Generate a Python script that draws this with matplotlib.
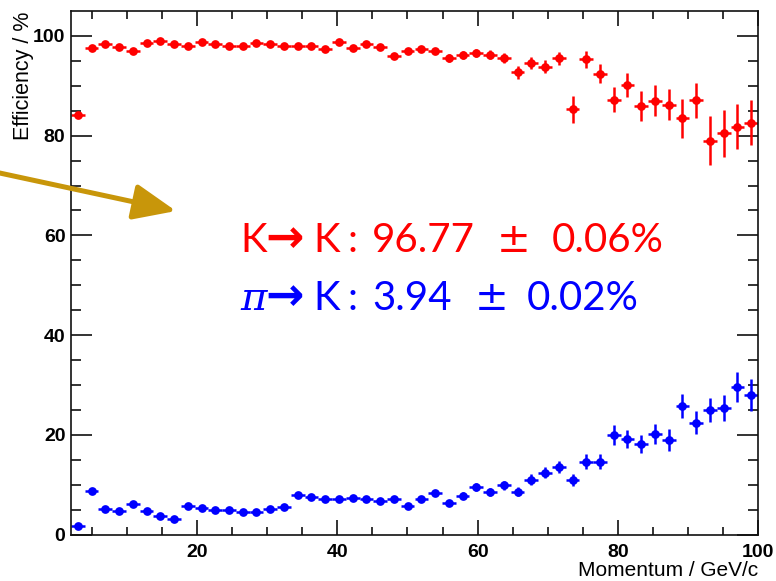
import numpy as np
import matplotlib
matplotlib.use("Agg")
import matplotlib.pyplot as plt
from matplotlib.font_manager import FontProperties

# ---------------- data ----------------
x_min, x_max, n_bins = 2.0, 100.0, 50
bin_w = (x_max - x_min) / n_bins
momentum = x_min + bin_w * (np.arange(n_bins) + 0.5)

kk_eff = [84.2, 97.5, 98.3, 97.7, 97.0, 98.5, 99.0, 98.4, 98.0, 98.7,
          98.3, 98.0, 98.0, 98.5, 98.4, 98.0, 98.0, 97.9, 97.3, 98.8,
          97.5, 98.4, 97.8, 95.9, 97.0, 97.4, 97.0, 95.5, 96.1, 96.6,
          96.2, 95.5, 92.7, 94.6, 93.8, 95.5, 85.3, 95.3, 92.4, 87.2,
          90.2, 86.0, 87.0, 86.2, 83.5, 87.1, 79.0, 80.5, 81.8, 82.6]
kk_err = [0.4, 0.3, 0.3, 0.3, 0.3, 0.3, 0.3, 0.3, 0.3, 0.3,
          0.3, 0.3, 0.3, 0.3, 0.3, 0.3, 0.3, 0.3, 0.4, 0.4,
          0.4, 0.4, 0.5, 0.5, 0.5, 0.6, 0.6, 0.8, 0.8, 0.8,
          0.9, 1.0, 1.3, 1.2, 1.3, 1.3, 2.7, 1.7, 1.9, 2.5,
          2.4, 3.0, 3.1, 3.1, 3.9, 3.5, 4.9, 4.7, 4.5, 4.5]

pik_eff = [1.7, 8.7, 5.1, 4.7, 6.2, 4.7, 3.7, 3.1, 5.8, 5.3,
           5.0, 4.9, 4.5, 4.5, 5.1, 5.5, 7.9, 7.5, 7.1, 7.1,
           7.3, 7.2, 6.8, 7.1, 5.7, 7.1, 8.3, 6.4, 7.8, 9.5,
           8.5, 9.9, 8.6, 11.0, 12.4, 13.6, 11.0, 14.6, 14.6, 19.9,
           19.2, 18.2, 20.1, 19.0, 25.7, 22.4, 24.9, 25.4, 29.6, 28.0]
pik_err = [0.3, 0.3, 0.3, 0.3, 0.3, 0.3, 0.3, 0.3, 0.3, 0.3,
           0.3, 0.3, 0.3, 0.3, 0.3, 0.3, 0.4, 0.4, 0.4, 0.4,
           0.4, 0.4, 0.4, 0.5, 0.5, 0.5, 0.6, 0.6, 0.7, 0.8,
           0.8, 0.9, 0.9, 1.1, 1.1, 1.2, 1.2, 1.5, 1.5, 2.0,
           1.8, 1.8, 2.0, 2.2, 2.4, 2.3, 2.4, 2.6, 3.0, 3.2]

# text pieces: (string, left pixel x)
kk_pieces = [("K", 240), ("\u2192", 265), ("K", 313), (":", 347),
             ("96.77", 372), ("\u00b1", 497), ("0.06%", 552)]
pik_pieces = [("\u03c0", 240), ("\u2192", 265), ("K", 313), (":", 347),
              ("3.94", 372), ("\u00b1", 475), ("0.02%", 527)]

# ---------------- figure ----------------
W, H = 776, 581
fig = plt.figure(figsize=(W / 100, H / 100), dpi=100)
ax = fig.add_axes([71 / W, 1 - 534.5 / H, (758 - 71) / W, (534.5 - 11) / H])

red, blue = "#FF0000", "#0000FF"
ax.errorbar(momentum, kk_eff, xerr=bin_w / 2, yerr=kk_err, fmt="o",
            color=red, ms=6.3, elinewidth=1.8, capsize=0, mew=0)
ax.errorbar(momentum, pik_eff, xerr=bin_w / 2, yerr=pik_err, fmt="o",
            color=blue, ms=6.3, elinewidth=1.8, capsize=0, mew=0)

ax.set_xlim(x_min, x_max)
ax.set_ylim(0, 105)
ax.set_xticks([20, 40, 60, 80, 100])
ax.set_xticks(np.arange(5, 100, 5), minor=True)
ax.set_yticks([0, 20, 40, 60, 80, 100])
ax.set_yticks(np.arange(5, 105, 5), minor=True)

for s in ax.spines.values():
    s.set_linewidth(1.2)
    s.set_color("#111111")

tick_fp = FontProperties(family="Liberation Sans", weight="bold", size=14)
ax.tick_params(axis="both", which="both", direction="in", top=True, right=True,
               width=1.2, color="#111111")
ax.tick_params(axis="x", which="major", length=11, pad=7)
ax.tick_params(axis="x", which="minor", length=6)
ax.tick_params(axis="y", which="major", length=15, pad=4)
ax.tick_params(axis="y", which="minor", length=7.5)
for lab in ax.get_xticklabels() + ax.get_yticklabels():
    lab.set_fontproperties(tick_fp)

fig.text(758 / W, 1 - 576 / H, "Momentum / GeV/c", ha="right", va="baseline",
         family="Liberation Sans", size=15)
fig.text(13 / W, 1 - 12 / H, "Efficiency / %", ha="left", va="top",
         rotation=90, family="Liberation Sans", size=15.5)

# gold arrow
ax.annotate("", xy=(176, H - 211), xytext=(-5, H - 172),
            xycoords="figure pixels", textcoords="figure pixels",
            annotation_clip=False,
            arrowprops=dict(arrowstyle="-|>,head_length=1.3,head_width=0.55",
                            mutation_scale=20, lw=3.6, color="#C8960A",
                            shrinkA=0, shrinkB=0))

# annotation text
main_font = dict(family="Lato", size=29)
arrow_font = dict(family="DejaVu Sans", weight="bold", size=33)
pm_font = dict(family="DejaVu Sans", size=29)
pi_font = dict(family="DejaVu Serif", style="italic", size=29)


def place(pieces, base, color):
    for s, x in pieces:
        if s == "\u2192":
            kw = arrow_font
        elif s == "\u03c0":
            kw = pi_font
        elif s == "\u00b1":
            kw = pm_font
        else:
            kw = main_font
        fig.text(x / W, base / H, s, ha="left", va="baseline", color=color, **kw)


place(kk_pieces, H - 252, red)
place(pik_pieces, H - 310, blue)

fig.savefig("out.png", dpi=100)
